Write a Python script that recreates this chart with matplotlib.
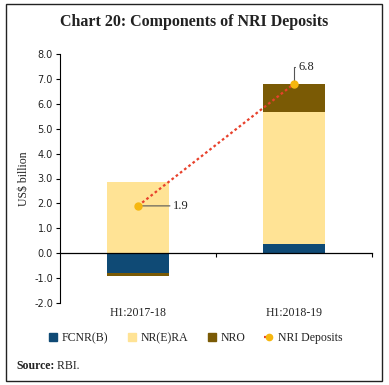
import matplotlib
matplotlib.use("Agg")
import matplotlib.pyplot as plt
from matplotlib.lines import Line2D
from matplotlib.patches import Rectangle
import numpy as np

categories = ["H1:2017-18", "H1:2018-19"]
fcnr = [-0.80, 0.38]
nrera = [2.85, 5.30]
nro = [-0.12, 1.12]
nri_total = [1.9, 6.8]
yticks = [-2.0, -1.0, 0.0, 1.0, 2.0, 3.0, 4.0, 5.0, 6.0, 7.0, 8.0]

c_fcnr = "#0F4A75"
c_nrera = "#FFE395"
c_nro = "#7A5A05"
c_line = "#E8412C"
c_mark = "#F6B70F"

serif = ["Liberation Serif", "DejaVu Serif"]
sans = ["DejaVu Sans"]

fig = plt.figure(figsize=(3.89, 3.85), dpi=100)
ax = fig.add_axes([60/389, 1-303/385, 312/389, 249/385])

x = np.arange(len(categories))
w = 0.4
fcnr = np.array(fcnr); nrera = np.array(nrera); nro = np.array(nro)
pos_base = np.zeros(len(x)); neg_base = np.zeros(len(x))
for vals, col in [(fcnr, c_fcnr), (nrera, c_nrera), (nro, c_nro)]:
    bottoms = np.where(vals >= 0, pos_base, neg_base)
    ax.bar(x, vals, w, bottom=bottoms, color=col, edgecolor="none", zorder=2)
    pos_base = pos_base + np.where(vals >= 0, vals, 0)
    neg_base = neg_base + np.where(vals < 0, vals, 0)

ax.plot(x, nri_total, color=c_line, lw=1.6, linestyle=(0, (1.2, 1.2)), zorder=3)
ax.plot(x, nri_total, linestyle="none", marker="o", ms=5, color=c_mark, zorder=4)

ax.annotate(f"{nri_total[0]:.1f}", xy=(x[0], nri_total[0]), xytext=(25, 0),
            textcoords="offset points", ha="left", va="center", fontsize=9,
            family=serif, color="#222",
            arrowprops=dict(arrowstyle="-", color="#555", lw=0.8, shrinkA=0, shrinkB=0,
                            relpos=(0, 0.5)))
ax.annotate(f"{nri_total[1]:.1f}", xy=(x[1], nri_total[1]), xytext=(3, 12),
            textcoords="offset points", ha="left", va="center", fontsize=9,
            family=serif, color="#222",
            arrowprops=dict(arrowstyle="-", color="#555", lw=0.8, shrinkA=0, shrinkB=0,
                            relpos=(0, 0.5),
                            connectionstyle="angle,angleA=0,angleB=90,rad=0"))

ax.set_xlim(-0.5, 1.5)
ax.set_ylim(-2.0, 8.0)
ax.set_yticks(yticks)
ax.set_yticklabels([f"{v:.1f}" for v in yticks], fontsize=7, family=sans, color="#222")
ax.tick_params(axis="y", direction="out", length=3, width=0.8, pad=2)
for s in ["top", "right"]:
    ax.spines[s].set_visible(False)
ax.spines["left"].set_linewidth(0.8)
ax.spines["bottom"].set_position(("data", 0))
ax.spines["bottom"].set_linewidth(0.9)
ax.spines["bottom"].set_zorder(5)
ax.set_xticks(x)
ax.set_xticklabels(categories, fontsize=8.5, family=serif, color="#222")
ax.tick_params(axis="x", which="major", length=0, pad=39)
ax.set_xticks([0.5, 1.5], minor=True)
ax.tick_params(axis="x", which="minor", direction="out", length=3, width=0.8)
ax.set_ylabel("US$ billion", fontsize=8.5, family=serif, color="#222", labelpad=3)

fig.text(194/389, 1-22/385, "Chart 20: Components of NRI Deposits", ha="center",
         va="center", fontsize=11.5, fontweight="bold", family=serif, color="#222")

handles = [
    Line2D([], [], marker="s", linestyle="none", ms=6, color=c_fcnr),
    Line2D([], [], marker="s", linestyle="none", ms=6, color=c_nrera),
    Line2D([], [], marker="s", linestyle="none", ms=6, color=c_nro),
    Line2D([], [], marker="o", ms=4.5, color=c_line, mfc=c_mark, mec=c_mark,
           linestyle=(0, (1.5, 1)), lw=1.6),
]
labels = ["FCNR(B)", "NR(E)RA", "NRO", "NRI Deposits"]
fig.legend(handles, labels, loc="center", bbox_to_anchor=(195/389, 1-338/385), ncol=4,
           frameon=False, prop={"family": serif, "size": 8.5}, handlelength=1.0,
           handletextpad=0.25, columnspacing=1.5, labelcolor="#222")

t1 = fig.text(16/389, 1-366/385, "Source:", ha="left", va="center", fontsize=8.5,
              fontweight="bold", family=serif, color="#222")
ax.annotate(" RBI.", xy=(1, 0.5), xycoords=t1, ha="left", va="center", fontsize=8.5,
            family=serif, color="#222", annotation_clip=False)

fig.add_artist(Rectangle((6/389, 1-381/385), 376/389, 377/385, transform=fig.transFigure,
                         fill=False, lw=1.0, edgecolor="#222"))

fig.savefig("out.png", dpi=100)
